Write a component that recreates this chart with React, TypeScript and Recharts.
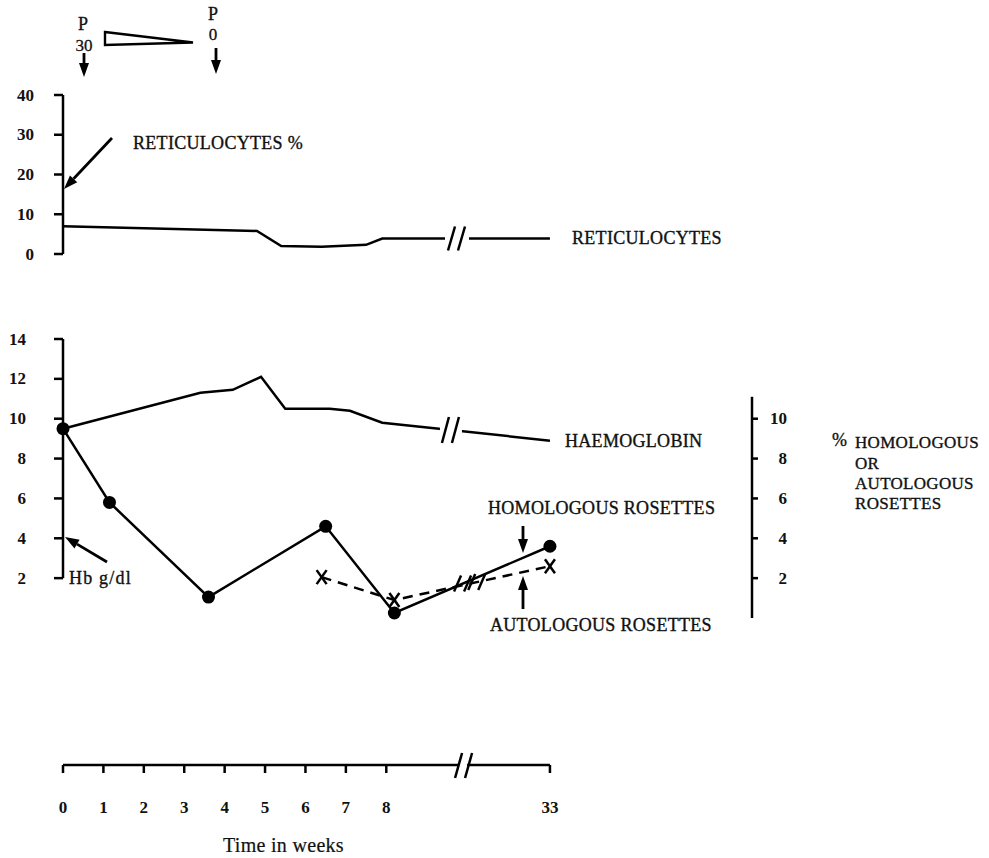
import React from "react";
import {
  LineChart,
  Line,
  XAxis,
  YAxis,
  ReferenceLine,
  ReferenceDot,
} from "recharts";

// weeks -> values
const retWeeks = [0, 4.8, 5.4, 6.4, 7.5, 7.9, 33];
const retValues = [7.0, 5.8, 2.0, 1.8, 2.3, 3.9, 3.9];

const hbWeeks = [0, 3.4, 4.2, 4.9, 5.5, 6.6, 7.1, 7.9, 33];
const hbValues = [9.5, 11.3, 11.45, 12.1, 10.5, 10.5, 10.4, 9.8, 8.9];

const homWeeks = [0, 1.15, 3.6, 6.5, 8.2, 33];
const homValues = [9.5, 5.8, 1.05, 4.6, 0.25, 3.6];

const autoWeeks = [6.4, 8.2, 33];
const autoValues = [2.05, 0.9, 2.6];

const retTicks = [0, 10, 20, 30, 40];
const hbTicks = [2, 4, 6, 8, 10, 12, 14];
const rosTicks = [2, 4, 6, 8, 10];
const timeTicks = [0, 1, 2, 3, 4, 5, 6, 7, 8, 33];

// broken time axis: linear to week 9, then squeezed
const X_MAX = 17.05;
const xPos = (w: number) => (w <= 9 ? w : 9 + ((w - 9) * 3.05) / 24);
const X_END = xPos(33);

const toRows = (ws: number[], vs: number[]) =>
  ws.map((w, i) => ({ x: xPos(w), v: vs[i] }));

const valueAt = (ws: number[], vs: number[], d: number) => {
  for (let i = 0; i < ws.length - 1; i++) {
    const a = xPos(ws[i]);
    const b = xPos(ws[i + 1]);
    if (d >= a && d <= b) return vs[i] + ((vs[i + 1] - vs[i]) * (d - a)) / (b - a);
  }
  return vs[vs.length - 1];
};

const FONT = "'Liberation Serif', 'Times New Roman', serif";
const INK = "#111";

const breakShape = (gap: number, h: number) => (p: any) => (
  <g>
    {gap > 0 && (
      <rect x={p.cx - gap / 2} y={p.cy - 5} width={gap} height={10} fill="#fff" />
    )}
    <line x1={p.cx - 9} y1={p.cy + h / 2} x2={p.cx - 2} y2={p.cy - h / 2} stroke="#000" strokeWidth={2.5} />
    <line x1={p.cx + 1} y1={p.cy + h / 2} x2={p.cx + 8} y2={p.cy - h / 2} stroke="#000" strokeWidth={2.5} />
  </g>
);

const tickText = { fontFamily: FONT, fontSize: 17, fontWeight: "bold", fill: INK } as const;

const leftTick = (edge: number) => (p: any) => (
  <text x={edge} y={p.y} textAnchor="end" dominantBaseline="central" {...tickText}>
    {p.payload.value}
  </text>
);

const rightTick = (p: any) => (
  <text x={787} y={p.y} textAnchor="end" dominantBaseline="central" {...tickText}>
    {p.payload.value}
  </text>
);

const timeTick = (p: any) => (
  <text x={p.x} y={807} textAnchor="middle" dominantBaseline="central" {...tickText}>
    {timeTicks[p.index]}
  </text>
);

const Arrow = ({ x1, y1, x2, y2 }: { x1: number; y1: number; x2: number; y2: number }) => {
  const a = Math.atan2(y2 - y1, x2 - x1);
  const L = 14;
  const W = 5;
  const bx = x2 - L * Math.cos(a);
  const by = y2 - L * Math.sin(a);
  const px = -Math.sin(a) * W;
  const py = Math.cos(a) * W;
  return (
    <g>
      <line x1={x1} y1={y1} x2={bx} y2={by} stroke="#000" strokeWidth={2.8} />
      <polygon points={`${x2},${y2} ${bx + px},${by + py} ${bx - px},${by - py}`} fill="#000" />
    </g>
  );
};

const label = {
  fontFamily: FONT,
  fontSize: 18,
  fill: INK,
  stroke: INK,
  strokeWidth: 0.35,
  letterSpacing: 0.3,
} as const;

const axisStroke = { stroke: "#000", strokeWidth: 2.5 };

export default function App() {
  const retData = toRows(retWeeks, retValues);
  const hbData = toRows(hbWeeks, hbValues);
  const homData = toRows(homWeeks, homValues);
  const autoData = toRows(autoWeeks, autoValues);
  // bottom axis break, placed with the same linear mapping as the charts
  const pxPerUnit = 689 / X_MAX;
  const axisBreakX = 63 + 9.9 * pxPerUnit;

  return (
    <div style={{ position: "absolute", left: 0, top: 0, width: 989, height: 858, background: "#fff" }}>
      {/* reticulocytes */}
      <div style={{ position: "absolute", left: 0, top: 0 }}>
        <LineChart width={989} height={290} data={retData} margin={{ top: 95, right: 237, bottom: 36, left: 62 }}>
          <XAxis type="number" dataKey="x" domain={[0, X_MAX]} hide />
          <YAxis
            domain={[0, 40]}
            ticks={retTicks}
            interval={0}
            width={1}
            axisLine={axisStroke}
            tickLine={axisStroke}
            tickSize={9}
            tick={leftTick(34)}
          />
          <Line dataKey="v" type="linear" stroke="#000" strokeWidth={2.5} dot={false} isAnimationActive={false} />
          <ReferenceDot x={9.75} y={valueAt(retWeeks, retValues, 9.75)} r={0} ifOverflow="visible" shape={breakShape(24, 24)} />
        </LineChart>
      </div>

      {/* haemoglobin + rosettes */}
      <div style={{ position: "absolute", left: 0, top: 0 }}>
        <LineChart width={989} height={660} margin={{ top: 339, right: 236, bottom: 42, left: 62 }}>
          <XAxis type="number" dataKey="x" domain={[0, X_MAX]} hide />
          <YAxis
            yAxisId="hb"
            domain={[0, 14]}
            ticks={hbTicks}
            interval={0}
            width={1}
            axisLine={false}
            tickLine={axisStroke}
            tickSize={9}
            tick={leftTick(26)}
          />
          <YAxis
            yAxisId="ros"
            orientation="right"
            domain={[0, 14]}
            ticks={rosTicks}
            interval={0}
            width={1}
            axisLine={false}
            tickLine={axisStroke}
            tickSize={6}
            tick={rightTick}
          />
          <ReferenceLine yAxisId="hb" segment={[{ x: 0, y: 2 }, { x: 0, y: 14 }]} {...axisStroke} ifOverflow="visible" />
          <ReferenceLine yAxisId="ros" segment={[{ x: X_MAX, y: 0 }, { x: X_MAX, y: 11.1 }]} {...axisStroke} ifOverflow="visible" />
          <Line yAxisId="hb" data={hbData} dataKey="v" type="linear" stroke="#000" strokeWidth={2.5} dot={false} isAnimationActive={false} />
          <Line
            yAxisId="ros"
            data={homData}
            dataKey="v"
            type="linear"
            stroke="#000"
            strokeWidth={2.5}
            isAnimationActive={false}
            dot={(p: any) => <circle key={`h${p.index}`} cx={p.cx} cy={p.cy} r={6.5} fill="#000" />}
          />
          <Line
            yAxisId="ros"
            data={autoData}
            dataKey="v"
            type="linear"
            stroke="#000"
            strokeWidth={2.5}
            strokeDasharray="10 7"
            isAnimationActive={false}
            dot={(p: any) => (
              <g key={`a${p.index}`} stroke="#000" strokeWidth={2.5}>
                <line x1={p.cx - 5} y1={p.cy - 7} x2={p.cx + 5} y2={p.cy + 7} />
                <line x1={p.cx + 5} y1={p.cy - 7} x2={p.cx - 5} y2={p.cy + 7} />
              </g>
            )}
          />
          <ReferenceDot yAxisId="hb" x={9.6} y={valueAt(hbWeeks, hbValues, 9.6)} r={0} ifOverflow="visible" shape={breakShape(22, 26)} />
          <ReferenceDot yAxisId="ros" x={9.9} y={valueAt(homWeeks, homValues, 9.9)} r={0} ifOverflow="visible" shape={breakShape(0, 16)} />
          <ReferenceDot yAxisId="ros" x={10.25} y={valueAt(autoWeeks, autoValues, 10.25)} r={0} ifOverflow="visible" shape={breakShape(0, 16)} />
        </LineChart>
      </div>

      {/* time axis */}
      <div style={{ position: "absolute", left: 0, top: 0 }}>
        <LineChart width={989} height={858} data={timeTicks.map((w) => ({ x: xPos(w) }))} margin={{ top: 700, right: 989 - 63 - X_END * pxPerUnit, bottom: 33, left: 63 }}>
          <XAxis
            type="number"
            dataKey="x"
            domain={[0, X_END]}
            ticks={timeTicks.map(xPos)}
            interval={0}
            height={60}
            axisLine={axisStroke}
            tickLine={axisStroke}
            tickSize={8}
            tick={timeTick}
          />
        </LineChart>
      </div>

      {/* annotations */}
      <svg width={989} height={858} style={{ position: "absolute", left: 0, top: 0, pointerEvents: "none" }}>
        <g>
          <rect x={axisBreakX - 4} y={760} width={8} height={10} fill="#fff" />
          <line x1={axisBreakX - 8} y1={778} x2={axisBreakX - 1} y2={753} stroke="#000" strokeWidth={2.5} />
          <line x1={axisBreakX + 2} y1={778} x2={axisBreakX + 9} y2={753} stroke="#000" strokeWidth={2.5} />
        </g>

        <text x={83} y={24} textAnchor="middle" dominantBaseline="central" fontFamily={FONT} fontSize={18} fill={INK} stroke={INK} strokeWidth={0.3}>P</text>
        <text x={84} y={45} textAnchor="middle" dominantBaseline="central" fontFamily={FONT} fontSize={17} fill={INK} stroke={INK} strokeWidth={0.3}>30</text>
        <Arrow x1={84} y1={53} x2={84} y2={77} />
        <polygon points="105,32 193,42.5 105,45" fill="#fff" stroke="#000" strokeWidth={2.4} />
        <text x={213} y={14} textAnchor="middle" dominantBaseline="central" fontFamily={FONT} fontSize={18} fill={INK} stroke={INK} strokeWidth={0.3}>P</text>
        <text x={213} y={34} textAnchor="middle" dominantBaseline="central" fontFamily={FONT} fontSize={17} fill={INK} stroke={INK} strokeWidth={0.3}>0</text>
        <Arrow x1={216} y1={48} x2={216} y2={74} />

        <text x={133} y={143} dominantBaseline="central" {...label}>RETICULOCYTES %</text>
        <Arrow x1={112} y1={138} x2={64} y2={189} />
        <text x={572} y={238} dominantBaseline="central" {...label}>RETICULOCYTES</text>

        <text x={565} y={441} dominantBaseline="central" {...label}>HAEMOGLOBIN</text>
        <text x={69} y={578} dominantBaseline="central" {...label} letterSpacing={1.2}>Hb g/dl</text>
        <Arrow x1={107} y1={562} x2={65} y2={537} />

        <text x={488} y={508} dominantBaseline="central" {...label}>HOMOLOGOUS ROSETTES</text>
        <Arrow x1={523} y1={526} x2={523} y2={553} />
        <Arrow x1={523} y1={609} x2={523} y2={576} />
        <text x={490} y={625} dominantBaseline="central" {...label}>AUTOLOGOUS ROSETTES</text>

        <text x={832} y={440} dominantBaseline="central" {...label} letterSpacing={0}>%</text>
        <text x={855} y={442} dominantBaseline="central" {...label} fontSize={17}>HOMOLOGOUS</text>
        <text x={855} y={463} dominantBaseline="central" {...label} fontSize={17}>OR</text>
        <text x={855} y={483} dominantBaseline="central" {...label} fontSize={17}>AUTOLOGOUS</text>
        <text x={855} y={503} dominantBaseline="central" {...label} fontSize={17}>ROSETTES</text>

        <text x={223} y={845} dominantBaseline="central" {...label} strokeWidth={0.2} fontSize={20}>Time in weeks</text>
      </svg>
    </div>
  );
}
